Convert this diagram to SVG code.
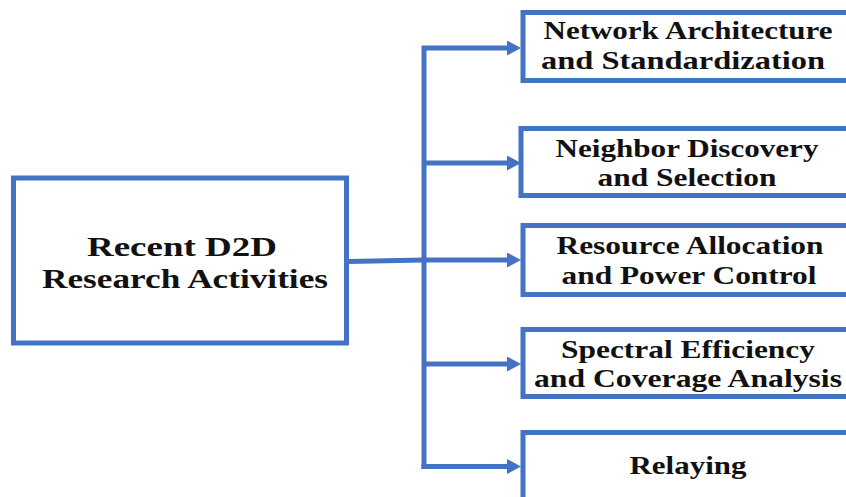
<svg xmlns="http://www.w3.org/2000/svg" width="846" height="497" viewBox="0 0 846 497">
<style>
.box{fill:#fff;stroke:#4472C4;stroke-width:5}
.ln{fill:none;stroke:#4472C4;stroke-width:5}
.t{font-family:"Liberation Serif","Times New Roman",serif;font-weight:bold;font-size:25px;fill:#111;text-anchor:middle}
.tm{font-size:27.5px}
</style>
<defs>
<marker id="ah" markerUnits="userSpaceOnUse" markerWidth="15" markerHeight="16" refX="0" refY="7.5" orient="auto">
<path d="M0,0 L14,7.5 L0,15 z" fill="#4472C4"/>
</marker>
</defs>
<rect width="846" height="497" fill="#fff"/>
<g id="connectors">
<path class="ln" d="M424 469 V48 H507" marker-end="url(#ah)"/>
<path class="ln" d="M424 163 H507" marker-end="url(#ah)"/>
<path class="ln" d="M349 261.5 L424 260 H507" marker-end="url(#ah)"/>
<path class="ln" d="M424 364 H507" marker-end="url(#ah)"/>
<path class="ln" d="M421.5 466.5 H507" marker-end="url(#ah)"/>
</g>
<g id="main">
<rect class="box" x="13.5" y="178" width="333" height="165"/>
<text class="t tm" x="182" y="256" textLength="190" lengthAdjust="spacingAndGlyphs">Recent D2D</text>
<text class="t tm" x="185" y="288" textLength="286" lengthAdjust="spacingAndGlyphs">Research Activities</text>
</g>
<g id="n1">
<rect class="box" x="523" y="12.5" width="400" height="68"/>
<text class="t" x="688" y="39" textLength="289" lengthAdjust="spacingAndGlyphs">Network Architecture</text>
<text class="t" x="683" y="69" textLength="284" lengthAdjust="spacingAndGlyphs">and Standardization</text>
</g>
<g id="n2">
<rect class="box" x="521" y="128.5" width="400" height="67"/>
<text class="t" x="687" y="157" textLength="263" lengthAdjust="spacingAndGlyphs">Neighbor Discovery</text>
<text class="t" x="687" y="186" textLength="179" lengthAdjust="spacingAndGlyphs">and Selection</text>
</g>
<g id="n3">
<rect class="box" x="523" y="225.5" width="400" height="69"/>
<text class="t" x="690" y="254" textLength="267" lengthAdjust="spacingAndGlyphs">Resource Allocation</text>
<text class="t" x="689" y="283.5" textLength="255" lengthAdjust="spacingAndGlyphs">and Power Control</text>
</g>
<g id="n4">
<rect class="box" x="523" y="329.5" width="400" height="67"/>
<text class="t" x="688" y="358" textLength="254" lengthAdjust="spacingAndGlyphs">Spectral Efficiency</text>
<text class="t" x="688" y="387" textLength="308" lengthAdjust="spacingAndGlyphs">and Coverage Analysis</text>
</g>
<g id="n5">
<rect class="box" x="523" y="432.5" width="400" height="100"/>
<text class="t" x="688" y="474" textLength="117" lengthAdjust="spacingAndGlyphs">Relaying</text>
</g>
</svg>
